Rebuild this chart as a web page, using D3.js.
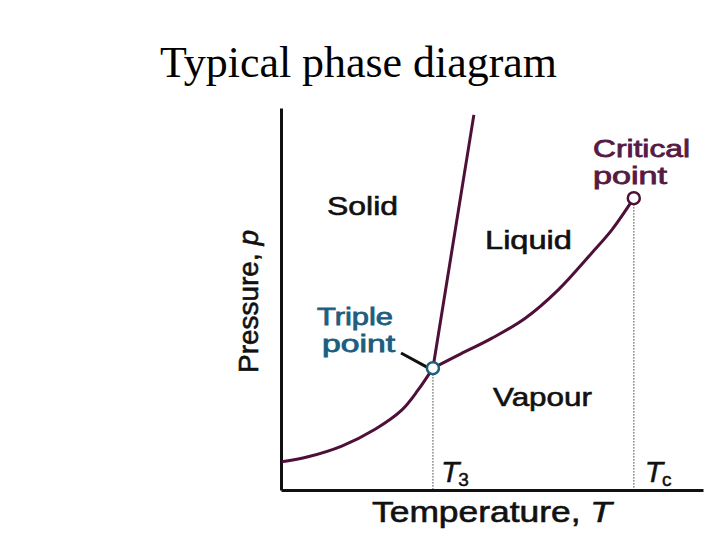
<!DOCTYPE html>
<html><head><meta charset="utf-8">
<script src="https://cdn.jsdelivr.net/npm/d3@7"></script>
<style>body{margin:0;background:#fff}svg{display:block}</style>
</head><body>
<script>
// Data (arbitrary units: T 0..100, p 0..100)
const sublimationCurve = [[0.2,7.4],[6.4,8.7],[14.4,11.5],[22.3,15.9],[28.6,20.9],[32.5,26.2],[36.0,31.9]];
const vaporizationCurve = [[36.0,31.9],[42.0,35.3],[49.9,39.7],[57.8,44.9],[65.7,52.4],[73.6,62.0],[78.4,68.1],[83.6,76.4]];
const fusionLine = [[36.0,31.9],[45.7,98.2]];
const triplePoint = [36.0,31.9];
const criticalPoint = [83.6,76.4];
const regionLabels = ["Solid","Liquid","Vapour"];
const title = "Typical phase diagram";

const W=720,H=540;
const svg=d3.select("body").append("svg").attr("width",W).attr("height",H);
const x=d3.scaleLinear().domain([0,100]).range([281,703]);
const y=d3.scaleLinear().domain([0,100]).range([490,108]);

const curveCol="#4e0f38", tripleCol="#1d5d7e", critCol="#561a43";
const sans="'Liberation Sans', Arial, Helvetica, sans-serif";

// Title
svg.append("text").attr("x",160).attr("y",77).attr("font-family","'Liberation Serif','Times New Roman',serif")
  .attr("font-size",44).attr("textLength",397).attr("lengthAdjust","spacingAndGlyphs").attr("fill","#000").text(title);

// dotted guide lines
[triplePoint,criticalPoint].forEach(p=>{
  svg.append("line").attr("x1",x(p[0])).attr("x2",x(p[0])).attr("y1",y(p[1])+6).attr("y2",y(0))
    .attr("stroke","#666").attr("stroke-width",1.5).attr("stroke-dasharray","1.3,1.7");
});

// axes
const yAxis=d3.axisLeft(y).tickValues([]).tickSizeOuter(0);
const xAxis=d3.axisBottom(x).tickValues([]).tickSizeOuter(0);
svg.append("g").attr("transform",`translate(${x(0)},0)`).call(yAxis)
  .select(".domain").attr("stroke","#111").attr("stroke-width",3);
svg.append("g").attr("transform",`translate(0,${y(0)})`).call(xAxis)
  .select(".domain").attr("stroke","#111").attr("stroke-width",3);

// curves
const line=d3.line().x(d=>x(d[0])).y(d=>y(d[1])).curve(d3.curveCatmullRom.alpha(0.5));
[sublimationCurve,vaporizationCurve].forEach(c=>{
  svg.append("path").attr("d",line(c)).attr("fill","none").attr("stroke",curveCol).attr("stroke-width",3);
});
svg.append("path").attr("d",d3.line().x(d=>x(d[0])).y(d=>y(d[1]))(fusionLine))
  .attr("fill","none").attr("stroke",curveCol).attr("stroke-width",3);

// triple point leader
svg.append("line").attr("x1",401).attr("y1",353).attr("x2",x(triplePoint[0])-6).attr("y2",y(triplePoint[1])-1)
  .attr("stroke","#111").attr("stroke-width",3);

// points
svg.append("circle").attr("cx",x(triplePoint[0])).attr("cy",y(triplePoint[1])).attr("r",6)
  .attr("fill","#fff").attr("stroke",tripleCol).attr("stroke-width",2.5);
svg.append("circle").attr("cx",x(criticalPoint[0])).attr("cy",y(criticalPoint[1])).attr("r",6)
  .attr("fill","#fff").attr("stroke",curveCol).attr("stroke-width",2.5);

function txt(s,px,py,len,opts={}){
  const col=opts.fill||"#111";
  const t=svg.append("text").attr("x",px).attr("y",py).attr("font-family",sans)
    .attr("font-size",opts.size||26).attr("fill",col).attr("stroke",col).attr("stroke-width",opts.sw||0.6).text(s);
  if(len) t.attr("textLength",len).attr("lengthAdjust","spacingAndGlyphs");
  return t;
}
// region labels
txt(regionLabels[0],327,215,71);
txt(regionLabels[1],485,249,87);
txt(regionLabels[2],493,406,99);
// annotations
const ann={size:23.5,sw:0.8};
txt("Triple",317,325,76,{...ann,fill:tripleCol});
txt("point",322,352,73,{...ann,fill:tripleCol});
txt("Critical",593,157,97,{...ann,fill:critCol});
txt("point",593,184,74,{...ann,fill:critCol});

// T3, Tc
function tlabel(px,sub){
  const t=svg.append("text").attr("x",px).attr("y",482).attr("font-family",sans).attr("font-size",30)
    .attr("fill","#111").attr("stroke","#111").attr("stroke-width",0.5);
  t.append("tspan").attr("font-style","italic").text("T");
  t.append("tspan").attr("font-size",19).attr("dy",4).attr("dx",-1).text(sub);
}
tlabel(x(triplePoint[0])+8,"3");
tlabel(x(criticalPoint[0])+11,"c");

// axis titles
const xl=svg.append("text").attr("x",372).attr("y",522).attr("font-family",sans).attr("font-size",29)
  .attr("fill","#111").attr("stroke","#111").attr("stroke-width",0.6).attr("textLength",240).attr("lengthAdjust","spacingAndGlyphs");
xl.append("tspan").text("Temperature, ");
xl.append("tspan").attr("font-style","italic").text("T");
const yl=svg.append("text").attr("transform","translate(258,373) rotate(-90)").attr("font-family",sans).attr("font-size",27)
  .attr("fill","#111").attr("stroke","#111").attr("stroke-width",0.6).attr("textLength",143).attr("lengthAdjust","spacingAndGlyphs");
yl.append("tspan").text("Pressure, ");
yl.append("tspan").attr("font-style","italic").text("p");
</script>
</body></html>
